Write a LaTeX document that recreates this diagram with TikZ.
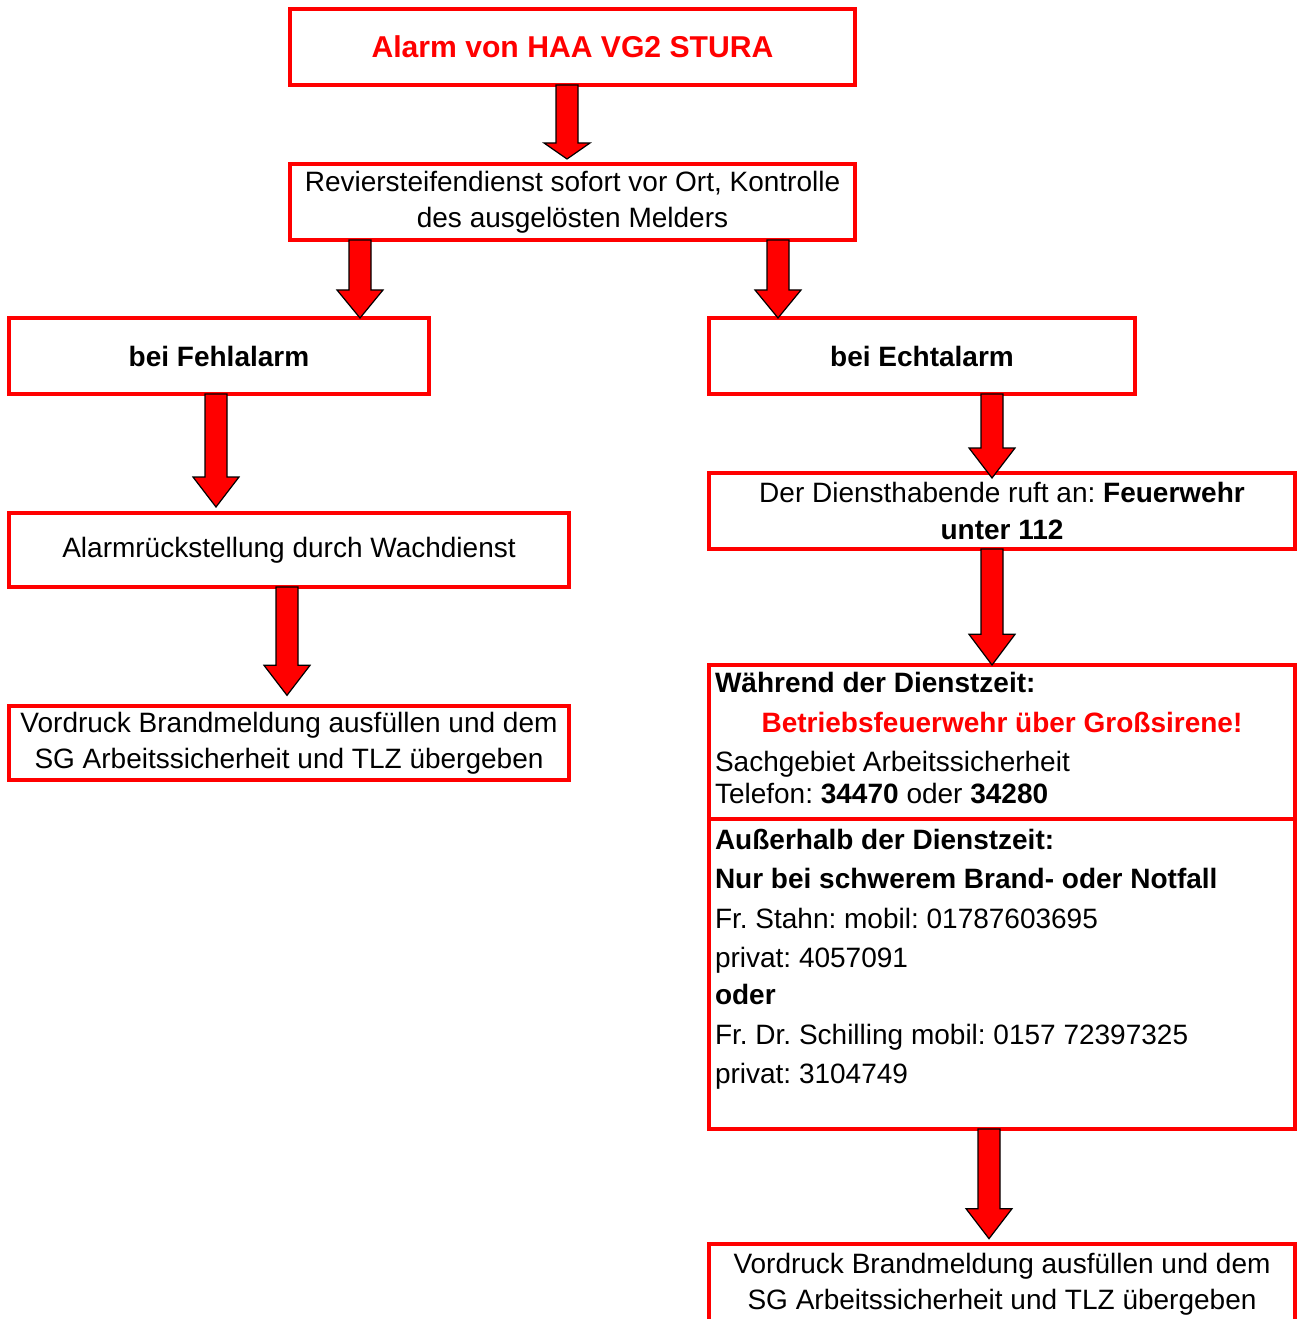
\documentclass[tikz,border=0pt]{standalone}
\usepackage{fontspec}
\setmainfont{Liberation Sans}
\usetikzlibrary{calc}
\frenchspacing
\definecolor{rd}{RGB}{255,0,0}
\tikzset{
  boxs/.style={draw=rd, line width=3pt, fill=white, inner sep=0pt, outer sep=0pt, align=center,
    font=\fontsize{21pt}{26.25pt}\selectfont\frenchspacing},
  txt/.style={inner sep=0pt, outer sep=0pt, font=\fontsize{21pt}{26.25pt}\selectfont\frenchspacing},
  barrowstyle/.style={fill=rd, draw=black, line width=0.9pt, line join=miter}
}
\newcommand\bx[6]{\node[boxs, minimum width={(#4-#2)*0.75pt}, minimum height={(#5-#3)*0.75pt}] (#1) at ({(#2+#4)/2},{(#3+#5)/2}) {#6};}
% x, start coordinate, tip coordinate, head length (pt)
\newcommand\barrow[4]{\path[barrowstyle] let \p1=(#2), \p2=(#3), \p3=(#1,0) in
  (\x3-8.25pt,\y1) -- (\x3+8.25pt,\y1) -- (\x3+8.25pt,\y2+#4) -- (\x3+17.25pt,\y2+#4)
  -- (\x3,\y2) -- (\x3-17.25pt,\y2+#4) -- (\x3-8.25pt,\y2+#4) -- cycle;}
\begin{document}
\begin{tikzpicture}[x=0.75pt,y=-0.75pt]
\useasboundingbox (0,0) rectangle (1298,1319);
\bx{top}{290}{9}{855}{85}{\fontsize{22.6pt}{27pt}\selectfont\textcolor{rd}{\textbf{Alarm von HAA VG2 STURA}}}
\bx{revier}{290}{164}{855}{240}{Reviersteifendienst sofort vor Ort, Kontrolle\\[0.6pt]des ausgelösten Melders}
\bx{fehl}{9}{318}{429}{394}{\textbf{bei Fehlalarm}}
\bx{echt}{709}{318}{1135}{394}{\textbf{bei Echtalarm}}
\bx{rueck}{9}{513}{569}{587}{Alarmrückstellung durch Wachdienst}
\bx{vordl}{9}{706}{569}{780}{Vordruck Brandmeldung ausfüllen und dem\\[0.6pt]SG Arbeitssicherheit und TLZ übergeben}
\bx{dienst}{709}{473}{1295}{549}{Der Diensthabende ruft an: \textbf{Feuerwehr}\\[2pt]\textbf{unter 112}}
\bx{waehrend}{709}{665}{1295}{819}{}
\bx{ausser}{709}{819}{1295}{1129}{}
\bx{vordr}{709}{1244}{1295}{1324}{Vordruck Brandmeldung ausfüllen und dem\\[0.6pt]SG Arbeitssicherheit und TLZ übergeben}
% texts in the large box
\node[txt, anchor=base west] (t1) at (715,692) {\textbf{Während der Dienstzeit:}};
\node[txt, anchor=base] (t2) at (1002,732) {\textcolor{rd}{\textbf{Betriebsfeuerwehr über Großsirene!}}};
\node[txt, anchor=base west] (t3) at (715,771) {Sachgebiet Arbeitssicherheit};
\node[txt, anchor=base west] (t4) at (715,803) {Telefon: \textbf{34470} oder \textbf{34280}};
\node[txt, anchor=base west] (t5) at (715,849) {\textbf{Außerhalb der Dienstzeit:}};
\node[txt, anchor=base west] (t6) at (715,888) {\textbf{Nur bei schwerem Brand- oder Notfall}};
\node[txt, anchor=base west] (t7) at (715,928) {Fr. Stahn: mobil: 01787603695};
\node[txt, anchor=base west] (t8) at (715,967) {privat: 4057091};
\node[txt, anchor=base west] (t9) at (715,1004) {\textbf{oder}};
\node[txt, anchor=base west] (t10) at (715,1044) {Fr. Dr. Schilling mobil: 0157 72397325};
\node[txt, anchor=base west] (t11) at (715,1083) {privat: 3104749};
% arrows
\barrow{567}{top.south}{[yshift=3.75pt]revier.north}{12pt}
\barrow{360}{revier.south}{fehl.north}{21pt}
\barrow{778}{revier.south}{echt.north}{21pt}
\barrow{216}{fehl.south}{[yshift=4.5pt]rueck.north}{22.5pt}
\barrow{287}{rueck.south}{[yshift=8pt]vordl.north}{22.5pt}
\barrow{992}{echt.south}{[yshift=-3.75pt]dienst.north}{22.5pt}
\barrow{992}{dienst.south}{waehrend.north}{23pt}
\barrow{989}{ausser.south}{[yshift=4pt]vordr.north}{22.5pt}
\end{tikzpicture}
\end{document}
